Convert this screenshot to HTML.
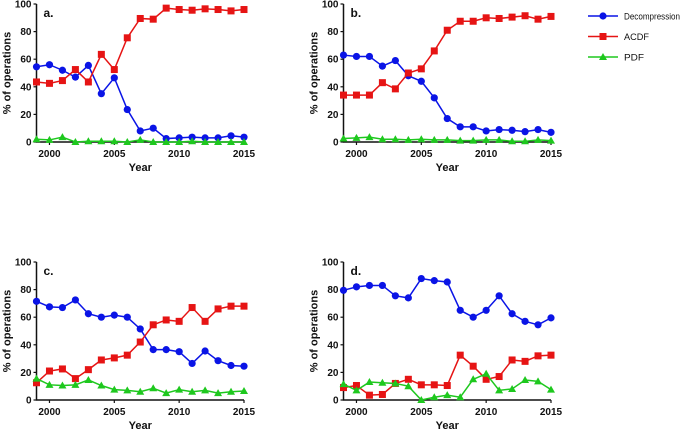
<!DOCTYPE html>
<html><head><meta charset="utf-8"><style>
html,body{margin:0;padding:0;background:#fff;width:684px;height:432px;overflow:hidden}
text{font-family:"Liberation Sans",Arial,sans-serif;font-weight:bold;fill:#111}
</style></head><body>
<svg id="svg" width="684" height="432" viewBox="0 0 684 432"></svg>
<script>
const years=[1999,2000,2001,2002,2003,2004,2005,2006,2007,2008,2009,2010,2011,2012,2013,2014,2015];
const xTicks=[2000,2005,2010,2015];
const yTicks=[0,20,40,60,80,100];
const seriesNames=["Decompression","ACDF","PDF"];
const aDecomp=[54.5,56,52,47,55.5,35,46.5,23.5,8,10,2.5,3,3.5,3,3,4.5,3.5];
const aACDF=[43.5,42.5,44.5,52.5,43.5,63.5,52.5,75.5,89.5,89,97,96,95.5,96.5,96,95,96];
const aPDF=[2,1.5,3.5,0,0.5,0.5,0.5,0,1.5,0,0,0,0.5,0,0,0,0];
const bDecomp=[63,62,62,55,59,48,44,32,17,11,11,8,9,8.5,7.5,9,7];
const bACDF=[34,34,34,43,38.5,50,53,66,81,87.5,87.5,90,89.5,90.5,91.5,89,91];
const bPDF=[2.5,3,3.5,2,2,1.5,2,1.5,1.5,1,1,1.5,1.5,0.5,0.5,1.5,1];
const cDecomp=[71.5,67.5,67,72.5,62.5,60,61.5,60,51.5,36.5,36.5,35,26.5,35.5,28.5,25,24.5];
const cACDF=[12.5,21,22.5,15.5,22,29,30.5,32.5,42,54.5,58,57,67,57,66,68,68];
const cPDF=[15.5,11,10.5,11,14.5,10.5,7.5,7,6,8.5,5,7.5,6,7,5,6,6.5];
const dDecomp=[79.5,82,83,83,75.5,74,88,86.5,85.5,65,60,65,75.5,62.5,57,54.5,59.5];
const dACDF=[9,10.5,3.5,4,12,15,11,11,10.5,32.5,24.5,15,17,29,28,32,32.5];
const dPDF=[11.5,7,13,12.5,12,10,0,2,3.5,2,15,19,7,8,14.5,13.5,7.5];

const NS="http://www.w3.org/2000/svg";
const svg=document.getElementById('svg');
const colors=["#0a14e6","#e61414","#1ec81e"];
function mk(tag,attrs,parent){const e=document.createElementNS(NS,tag);for(const k in attrs)e.setAttribute(k,attrs[k]);(parent||svg).appendChild(e);return e;}
function marker(kind,x,y,c,g){
  if(kind===0)return mk('circle',{cx:x,cy:y,r:3.6,fill:c},g);
  if(kind===1)return mk('rect',{x:x-3.5,y:y-3.5,width:7,height:7,fill:c},g);
  return mk('polygon',{points:`${x},${y-4} ${x+4},${y+3} ${x-4},${y+3}`,fill:c},g);
}
const panels=[
 {id:'a',x0:36.5,x1:244,yTop:4,yBot:142,data:[aDecomp,aACDF,aPDF]},
 {id:'b',x0:343.5,x1:551,yTop:4,yBot:142,data:[bDecomp,bACDF,bPDF]},
 {id:'c',x0:36.5,x1:244,yTop:262,yBot:400,data:[cDecomp,cACDF,cPDF]},
 {id:'d',x0:343.5,x1:551,yTop:262,yBot:400,data:[dDecomp,dACDF,dPDF]}
];
panels.forEach(p=>{
  const g=mk('g',{});
  
  
  const xs=v=>p.x0+(v-years[0])/(years[years.length-1]-years[0])*(p.x1-p.x0);
  const ys=v=>p.yBot-v/100*(p.yBot-p.yTop);
  const ax=mk('path',{d:`M${p.x0},${p.yTop}V${p.yBot}H${p.x1}`,stroke:'#111','stroke-width':1.5,fill:'none'},g);
  
  
  yTicks.forEach(t=>{
    mk('line',{x1:p.x0-3,x2:p.x0,y1:ys(t),y2:ys(t),stroke:'#111','stroke-width':1.2},g);
    const tx=mk('text',{x:p.x0-5,y:ys(t)+3.5,'text-anchor':'end','font-size':10},g);
    tx.textContent=t;
    
    
  });
  xTicks.forEach(t=>{
    mk('line',{x1:xs(t),x2:xs(t),y1:p.yBot,y2:p.yBot+3,stroke:'#111','stroke-width':1.2},g);
    const tx=mk('text',{x:xs(t),y:p.yBot+15,'text-anchor':'middle','font-size':10},g);
    tx.textContent=t;
    
    
  });
  const xt=mk('text',{x:(p.x0+p.x1)/2,y:p.yBot+29,'text-anchor':'middle','font-size':11},g);
  xt.textContent='Year';
  
  
  const yx=p.x0-26,yy=(p.yTop+p.yBot)/2;
  const yt=mk('text',{x:yx,y:yy,'text-anchor':'middle','font-size':11,transform:`rotate(-90 ${yx} ${yy})`},g);
  yt.textContent='% of operations';
  
  
  const pl=mk('text',{x:p.x0+7,y:p.yTop+13,'font-size':12},g);
  pl.textContent=p.id+'.';
  
  
  p.data.forEach((vals,si)=>{
    const pts=vals.map((v,i)=>xs(years[i])+','+ys(v)).join(' ');
    const ln=mk('polyline',{points:pts,fill:'none',stroke:colors[si],'stroke-width':1.5},g);
    
    
    vals.forEach((v,i)=>{
      const m=marker(si,xs(years[i]),ys(v),colors[si],g);
      
      
    });
  });
});
const lg=mk('g',{});


const legendLens=[56,25,20];
seriesNames.forEach((n,i)=>{
  const y=16+i*20.5;
  const e=mk('g',{},lg);
  
  
  mk('line',{x1:588,x2:618,y1:y,y2:y,stroke:colors[i],'stroke-width':1.5},e);
  marker(i,603,y,colors[i],e);
  const t=mk('text',{x:624,y:y+3.5,'font-size':9.5,textLength:legendLens[i],lengthAdjust:'spacingAndGlyphs',style:'font-weight:normal'},e);
  t.textContent=n;
});
</script>
</body></html>
